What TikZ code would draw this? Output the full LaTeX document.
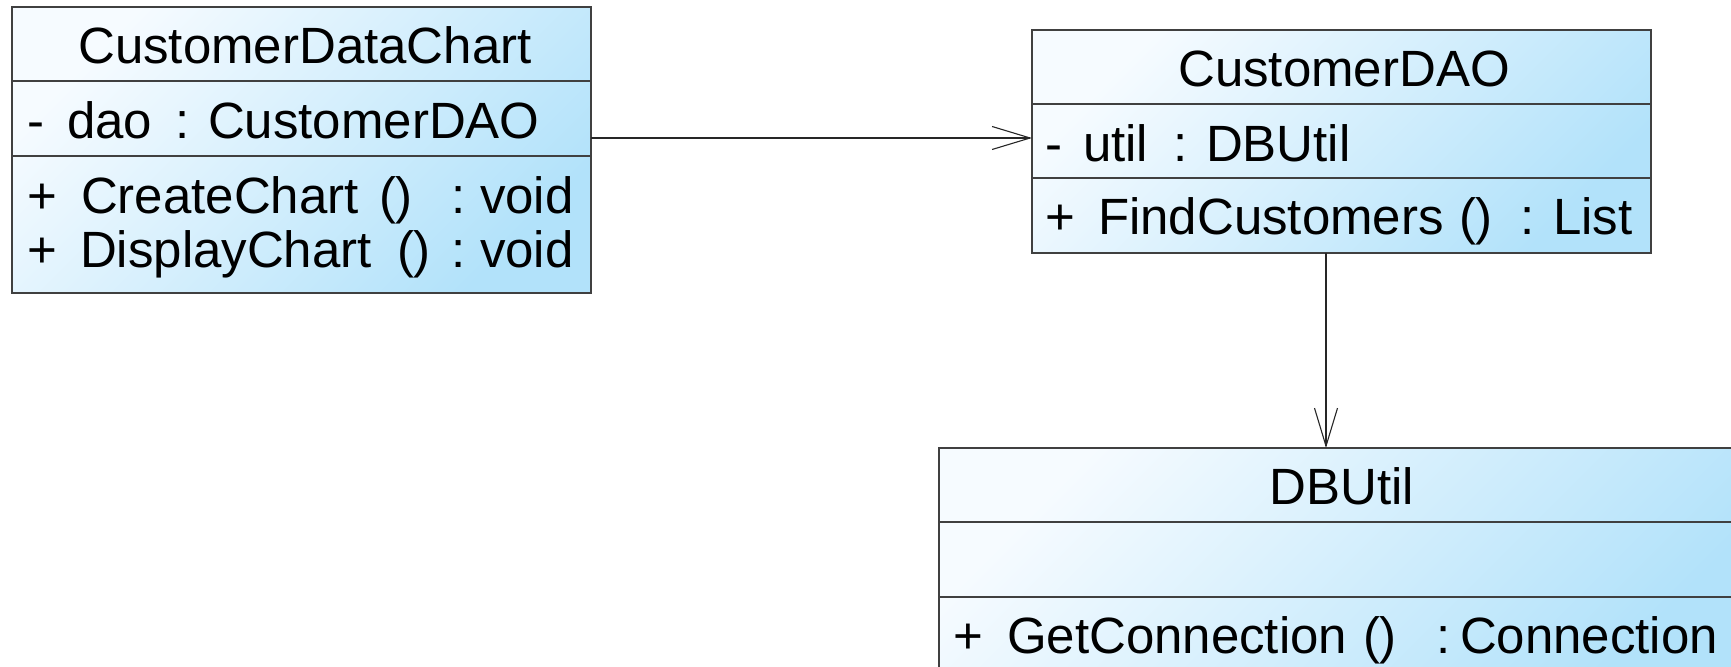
\documentclass[tikz,border=0pt]{standalone}
\usepackage{fontspec}
\setmainfont{Liberation Sans}
\usetikzlibrary{arrows.meta}
\definecolor{shadeA}{RGB}{246,251,255}
\definecolor{shadeB}{RGB}{178,226,250}
\definecolor{edgegray}{RGB}{64,64,64}
\newcommand\umlfont{\fontsize{25.5}{30}\selectfont}
\tikzset{
  classbox/.style={rectangle, draw=edgegray, line width=0.65pt,
    top color=shadeA, bottom color=shadeB, shading angle=45,
    inner sep=0pt, outer sep=0pt, anchor=north west},
  compline/.style={draw=edgegray, line width=0.65pt},
  lbl/.style={inner sep=0pt, outer sep=0pt, anchor=base west, font=\umlfont, text=black},
  ttl/.style={lbl, anchor=base},
  dep/.style={draw=black!85, line width=0.55pt,
    -{Straight Barb[length=19pt,width=11.5pt]}}
}
\begin{document}
\begin{tikzpicture}[x=0.5pt,y=-0.5pt]
\useasboundingbox (0,0) rectangle (1731,667);

% CustomerDataChart
\node[classbox, minimum width=289.5pt, minimum height=143pt] (cdc) at (12,7) {};
\draw[compline] (12,81) -- (591,81);
\draw[compline] (12,156) -- (591,156);
\node[ttl] (cdcT) at (305,64) {CustomerDataChart};
\node[lbl] (cdcA1) at (27,139) {-};
\node[lbl] (cdcA2) at (67,139) {dao};
\node[lbl] (cdcA3) at (175,139) {: CustomerDAO};
\node[lbl] (cdcM1a) at (27,214) {+};
\node[lbl] (cdcM1b) at (81,214) {CreateChart};
\node[lbl] (cdcM1c) at (379,214) {()};
\node[lbl] (cdcM1d) at (451,214) {:};
\node[lbl] (cdcM1e) at (480,214) {void};
\node[lbl] (cdcM2a) at (27,268) {+};
\node[lbl] (cdcM2b) at (80,268) {DisplayChart};
\node[lbl] (cdcM2c) at (397,268) {()};
\node[lbl] (cdcM2d) at (451,268) {:};
\node[lbl] (cdcM2e) at (480,268) {void};

% CustomerDAO
\node[classbox, minimum width=309.5pt, minimum height=111.5pt] (dao) at (1032,30) {};
\draw[compline] (1032,104) -- (1651,104);
\draw[compline] (1032,178) -- (1651,178);
\node[ttl] (daoT) at (1344,87) {CustomerDAO};
\node[lbl] (daoA1) at (1045,162) {-};
\node[lbl] (daoA2) at (1083,162) {util};
\node[lbl] (daoA3) at (1173,162) {: DBUtil};
\node[lbl] (daoM1a) at (1045,235) {+};
\node[lbl] (daoM1b) at (1098,235) {FindCustomers};
\node[lbl] (daoM1c) at (1459,235) {()};
\node[lbl] (daoM1d) at (1520,235) {: List};

% DBUtil (runs past the page edge)
\begin{scope}
\clip (0,0) rectangle (1731,667);
\node[classbox, minimum width=403pt, minimum height=120pt] (dbu) at (939,448) {};
\draw[compline] (939,522) -- (1745,522);
\draw[compline] (939,597) -- (1745,597);
\node[ttl] (dbuT) at (1342,505) {DBUtil};
\node[lbl] (dbuM1a) at (953,654) {+};
\node[lbl] (dbuM1b) at (1007,654) {GetConnection};
\node[lbl] (dbuM1c) at (1363,654) {()};
\node[lbl] (dbuM1d) at (1436,654) {:};
\node[lbl] (dbuM1e) at (1460,654) {Connection};
\end{scope}

% dependencies
\draw[dep] ([yshift=6pt]cdc.east) coordinate (d1) -- (d1 -| dao.west);
\draw[dep] ([xshift=-7.75pt]dao.south) coordinate (d2) -- (d2 |- dbu.north);
\end{tikzpicture}
\end{document}
